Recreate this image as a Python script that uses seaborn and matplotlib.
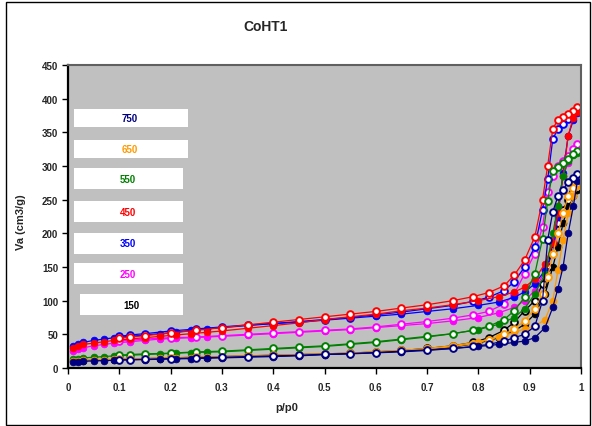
import matplotlib
matplotlib.use("Agg")
import matplotlib.pyplot as plt
import seaborn as sns
import numpy as np
import pandas as pd
from matplotlib.patches import Rectangle

sns.set_theme(style="white")
plt.rcParams['font.family'] = ['Liberation Sans', 'DejaVu Sans']

# relative pressure grids
P_ADS = [0.01, 0.02, 0.03, 0.05, 0.07, 0.09, 0.12, 0.15, 0.18, 0.21, 0.24, 0.27, 0.30,
         0.35, 0.40, 0.45, 0.50, 0.55, 0.60, 0.65, 0.70, 0.75, 0.80, 0.84, 0.87, 0.89,
         0.91, 0.93, 0.945, 0.955, 0.965, 0.975, 0.985, 0.993]
P_DES = [0.993, 0.985, 0.975, 0.965, 0.955, 0.945, 0.935, 0.925, 0.91, 0.89, 0.87, 0.85,
         0.82, 0.79, 0.75, 0.70, 0.65, 0.60, 0.55, 0.50, 0.45, 0.40, 0.35, 0.30, 0.25,
         0.20, 0.15, 0.12, 0.10]

LABELS = ["750", "650", "550", "450", "350", "250", "150"]
COLORS = ["#000080", "#FF9900", "#008000", "#FF0000", "#0000FF", "#FF00FF", "#000000"]

# adsorption branches (filled markers) and desorption branches (open markers)
ADS_150 = [10, 10.5, 11, 11.5, 12, 12.5, 13, 13.5, 14, 14.5, 15, 15.5, 16, 17, 18, 19, 20,
           21.5, 23, 25, 27, 31, 37, 45, 55, 65, 80, 110, 150, 180, 215, 240, 255, 265]
DES_150 = [268, 262, 250, 235, 215, 185, 150, 125, 100, 85, 68, 56, 45, 38, 33, 29, 26, 24,
           22, 21, 20, 19, 18, 17, 16, 15, 14, 13.5, 13]
ADS_250 = [25, 28, 30, 33, 35, 37, 39, 41, 43, 44, 45, 46, 47, 49, 51, 53, 55, 57, 60, 63,
           66, 70, 75, 82, 90, 100, 115, 145, 190, 240, 285, 305, 318, 325]
DES_250 = [333, 325, 315, 308, 300, 285, 262, 210, 170, 140, 110, 95, 84, 79, 74, 69, 65,
           61, 58, 56, 54, 52, 50, 48, 46, 45, 43, 41, 40]
ADS_350 = [33, 36, 38, 41, 43, 45, 47, 49, 51, 53, 56, 58, 60, 63, 66, 68, 71, 74, 77, 80,
           84, 88, 93, 98, 105, 113, 125, 145, 170, 225, 290, 345, 368, 378]
DES_350 = [383, 378, 370, 363, 355, 340, 280, 235, 180, 150, 128, 115, 105, 99, 93, 88, 83,
           79, 75, 72, 69, 66, 64, 61, 58, 55, 51, 49, 47]
ADS_450 = [30, 33, 35, 37, 39, 41, 43, 45, 47, 49, 51, 53, 55, 59, 63, 67, 72, 76, 80, 85,
           89, 94, 100, 106, 113, 120, 132, 155, 185, 230, 285, 345, 372, 380]
DES_450 = [387, 382, 377, 373, 369, 355, 300, 250, 195, 160, 138, 122, 112, 106, 100, 94,
           89, 84, 80, 76, 72, 68, 64, 60, 56, 52, 48, 46, 44]
ADS_550 = [13, 14, 15, 16, 17, 18, 19, 20, 21, 22, 23, 23.5, 24, 26, 28, 30, 32, 35, 38, 42,
           46, 51, 57, 65, 75, 88, 110, 140, 200, 240, 285, 308, 316, 320]
DES_550 = [322, 318, 310, 304, 298, 293, 248, 192, 140, 105, 85, 72, 62, 56, 51, 47, 43, 39,
           36, 33, 31, 29, 27, 25, 24, 22, 21, 20, 19]
ADS_650 = [10, 11, 11.5, 12, 12.5, 13, 13.5, 14, 14.5, 15, 15.5, 16, 16.5, 17.5, 18.5, 19.5,
           21, 22, 24, 26, 29, 33, 39, 46, 53, 58, 62, 72, 100, 145, 190, 230, 255, 270]
DES_650 = [275, 268, 255, 230, 200, 170, 135, 110, 88, 70, 58, 50, 42, 36, 32, 28, 26, 24,
           22, 21, 20, 19, 18, 17, 16, 15, 14, 13.5, 13]
ADS_750 = [9, 9.5, 10, 10.5, 11, 11.5, 12, 12.5, 13, 13.5, 14, 14.5, 15, 16, 17, 18, 20, 21,
           22.5, 24, 26, 29, 32, 35, 38, 40, 45, 60, 90, 118, 150, 200, 240, 278]
DES_750 = [288, 282, 276, 265, 255, 232, 190, 100, 62, 50, 45, 40, 35, 32, 29, 27, 25, 23,
           21.5, 20.5, 19, 18, 17, 16, 15, 14, 13, 12.5, 12]

ADS = {"750": ADS_750, "650": ADS_650, "550": ADS_550, "450": ADS_450,
       "350": ADS_350, "250": ADS_250, "150": ADS_150}
DES = {"750": DES_750, "650": DES_650, "550": DES_550, "450": DES_450,
       "350": DES_350, "250": DES_250, "150": DES_150}

W, H = 592, 427
fig = plt.figure(figsize=(W / 100, H / 100), dpi=100)
ax = fig.add_axes([68 / W, 1 - 369 / H, (581 - 68) / W, (369 - 66) / H])
ax.set_facecolor("#C0C0C0")

draw_order = ["150", "250", "350", "450", "550", "650", "750"]
for lab in draw_order:
    col = COLORS[LABELS.index(lab)]
    sns.lineplot(x=P_ADS, y=ADS[lab], ax=ax, color=col, lw=0.9, sort=False,
                 estimator=None, marker="o", markersize=4.8, markerfacecolor=col,
                 markeredgecolor=col, markeredgewidth=0.6, legend=False)
    sns.lineplot(x=P_DES, y=DES[lab], ax=ax, color=col, lw=0.9, sort=False,
                 estimator=None, marker="o", markersize=4.8, markerfacecolor="white",
                 markeredgecolor=col, markeredgewidth=1.4, legend=False)

ax.set_xlim(0, 1)
ax.set_ylim(0, 450)
ax.set_xticks(np.arange(0, 1.01, 0.1))
ax.set_xticklabels(["0"] + [f"{v:.1f}" for v in np.arange(0.1, 0.95, 0.1)] + ["1"])
ax.set_yticks(np.arange(0, 451, 50))
ax.tick_params(axis="both", which="both", direction="out", length=4, width=1,
               color="black", labelsize=7, bottom=True, left=True)
ax.tick_params(axis="x", pad=6)
ax.tick_params(axis="y", pad=3)
for t in ax.get_xticklabels() + ax.get_yticklabels():
    t.set_fontweight("bold")
for s in ["left", "bottom"]:
    ax.spines[s].set_color("black")
    ax.spines[s].set_linewidth(1.6)
for s in ["top", "right"]:
    ax.spines[s].set_color("#606060")
    ax.spines[s].set_linewidth(1.5)

ax.set_xlabel("p/p0", fontsize=8, fontweight="bold")
ax.xaxis.set_label_coords((287 - 68) / 513, -(403 - 369) / 303)
ax.set_ylabel("Va (cm3/g)", fontsize=8, fontweight="bold")
ax.yaxis.set_label_coords((26 - 68) / 513, (369 - 222) / 303)

# legend boxes (axes data coordinates)
boxes = {
    "750": (0.0117, 358, 0.222, 26.7, 0.121, 371),
    "650": (0.0117, 312, 0.222, 26.6, 0.121, 325),
    "550": (0.0117, 266, 0.212, 31, 0.117, 281),
    "450": (0.0117, 217, 0.212, 31, 0.117, 232),
    "350": (0.0117, 169, 0.212, 31.5, 0.117, 185),
    "250": (0.0117, 125, 0.212, 31, 0.117, 140),
    "150": (0.0234, 79, 0.200, 31, 0.124, 94),
}
for lab, (bx, by, bw, bh, tx, ty) in boxes.items():
    col = COLORS[LABELS.index(lab)]
    ax.add_patch(Rectangle((bx, by), bw, bh, facecolor="white", edgecolor="none", zorder=5))
    ax.text(tx, ty, lab, color=col, fontsize=7, fontweight="bold", ha="center",
            va="center", zorder=6)

fig.text(266 / W, 1 - 27 / H, "CoHT1", fontsize=10, fontweight="bold",
         ha="center", va="center")
fig.patches.append(Rectangle((6 / W, 1 / H), 584 / W, 423 / H, transform=fig.transFigure,
                             facecolor="none", edgecolor="black", lw=1, figure=fig))

fig.savefig("out.png", dpi=100)
